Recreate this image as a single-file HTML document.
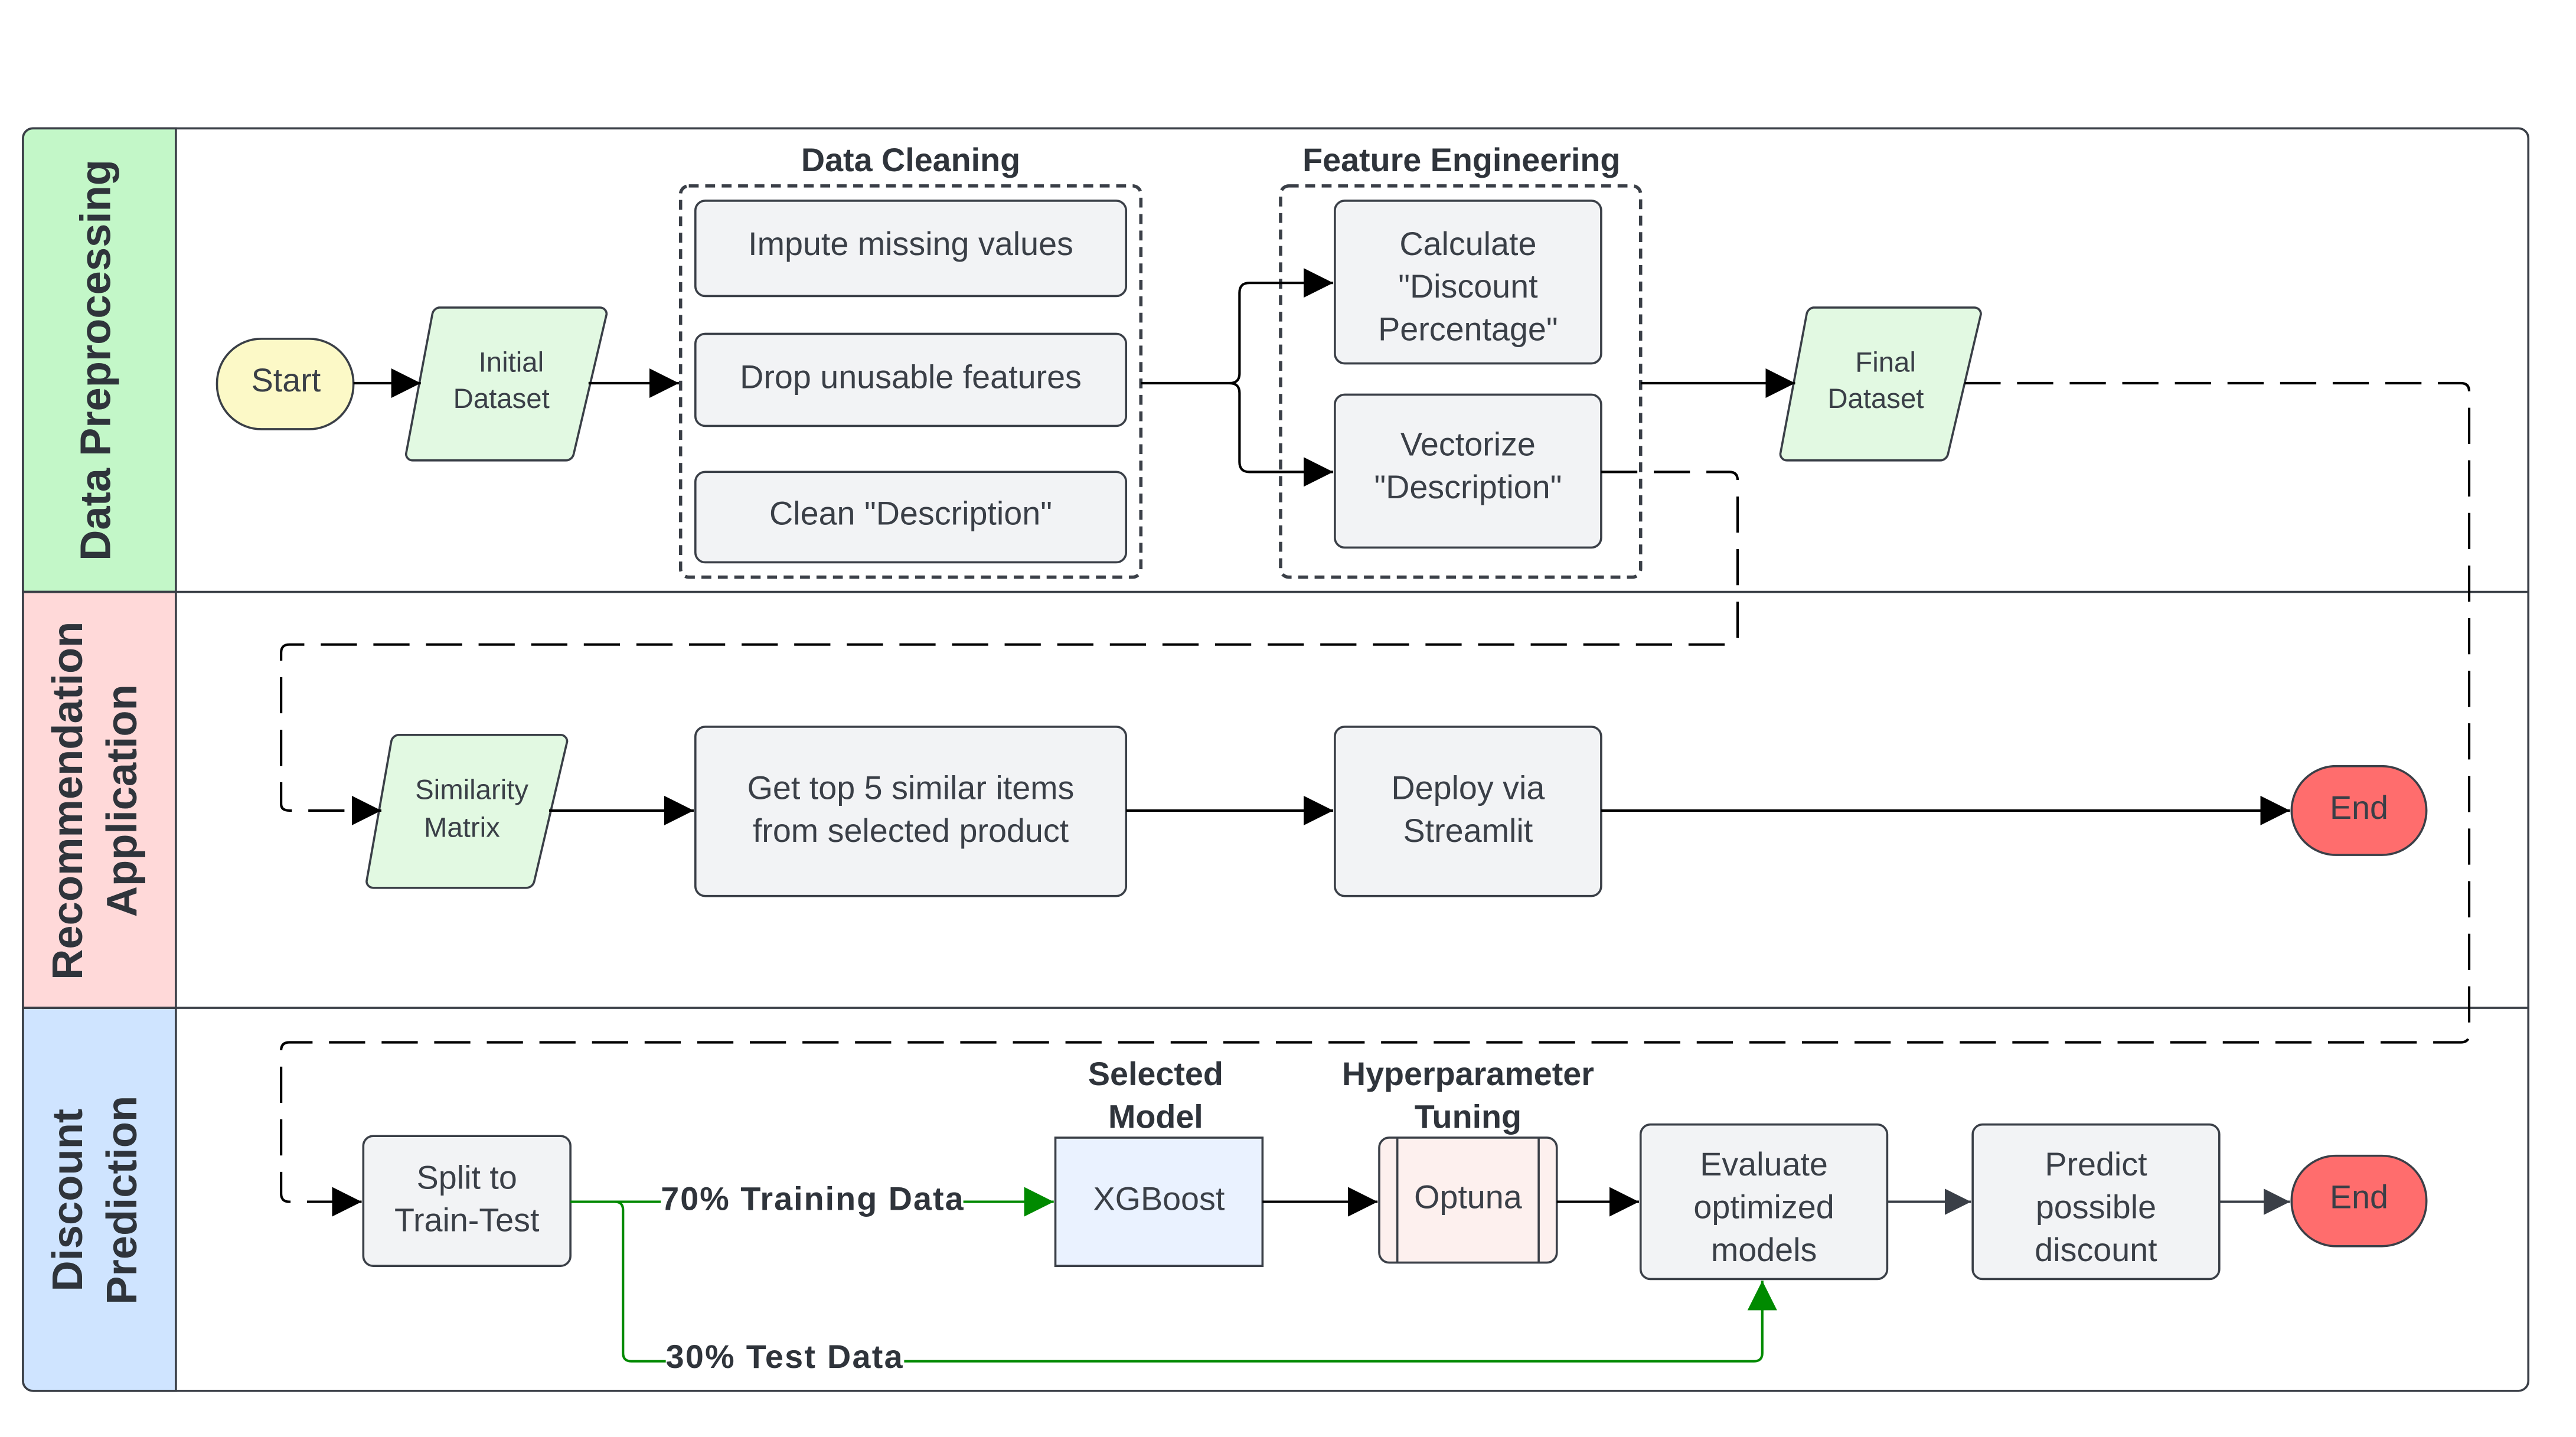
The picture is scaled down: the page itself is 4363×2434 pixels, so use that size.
<!DOCTYPE html>
<html><head><meta charset="utf-8"><style>html,body{margin:0;padding:0;background:#fff}svg{display:block}</style></head>
<body>
<svg width="4363" height="2434" viewBox="0 0 1567 874" xmlns="http://www.w3.org/2000/svg" font-family="Liberation Sans, sans-serif">
<defs>
<marker id="ab" viewBox="0 0 10 10" markerWidth="18" markerHeight="18" refX="10" refY="5" orient="auto" markerUnits="userSpaceOnUse"><path d="M0,0 L10,5 L0,10Z" fill="#000"/></marker>
<marker id="ag" viewBox="0 0 10 10" markerWidth="18" markerHeight="18" refX="10" refY="5" orient="auto" markerUnits="userSpaceOnUse"><path d="M0,0 L10,5 L0,10Z" fill="#008a00"/></marker>
<marker id="ad" viewBox="0 0 10 10" markerWidth="16" markerHeight="16" refX="10" refY="5" orient="auto" markerUnits="userSpaceOnUse"><path d="M0,0 L10,5 L0,10Z" fill="#3a3f47"/></marker>
</defs>
<g stroke="#3a3f47" stroke-width="1.3">
<rect x="14" y="78" width="1524" height="768" rx="6" fill="#fff"/>
<path d="M14,84 a6,6 0 0 1 6,-6 H107 V360 H14Z" fill="#c3f7c8"/>
<rect x="14" y="360" width="93" height="253" fill="#ffd9d9"/>
<path d="M14,613 H107 V846 H20 a6,6 0 0 1 -6,-6Z" fill="#cfe4ff"/>
<line x1="14" y1="360" x2="1538" y2="360"/>
<line x1="14" y1="613" x2="1538" y2="613"/>
</g>
<g fill="#2f343b" font-weight="bold" font-size="26" text-anchor="middle">
<text transform="translate(67,219) rotate(-90)">Data Preprocessing</text>
<text transform="translate(50,487) rotate(-90)">Recommendation</text>
<text transform="translate(83,487) rotate(-90)">Application</text>
<text transform="translate(50,730) rotate(-90)">Discount</text>
<text transform="translate(83,730) rotate(-90)">Prediction</text>
</g>
<g fill="#2f343b" font-weight="bold" font-size="20" text-anchor="middle">
<text x="554" y="104">Data Cleaning</text>
<text x="889" y="104">Feature Engineering</text>
<text x="703" y="660">Selected</text>
<text x="703" y="686">Model</text>
<text x="893" y="660">Hyperparameter</text>
<text x="893" y="686">Tuning</text>
</g>
<g fill="none" stroke="#3a3f47" stroke-width="2" stroke-dasharray="6,4">
<rect x="414" y="113" width="280" height="238" rx="5"/>
<rect x="779" y="113" width="219" height="238" rx="5"/>
</g>
<g stroke="#3a3f47" stroke-width="1.3">
<rect x="132" y="206" width="83" height="55" rx="27" fill="#fcf9c7"/>
<path d="M267,187 H365 a4,4 0 0 1 4,4 L349,276 a5,5 0 0 1 -5,4 H251 a4,4 0 0 1 -4,-4 L263,191 a5,5 0 0 1 4,-4Z" fill="#e2f9e2"/>
<path d="M1103,187 H1201 a4,4 0 0 1 4,4 L1185,276 a5,5 0 0 1 -5,4 H1087 a4,4 0 0 1 -4,-4 L1099,191 a5,5 0 0 1 4,-4Z" fill="#e2f9e2"/>
<path d="M242,447 H341 a4,4 0 0 1 4,4 L325,536 a5,5 0 0 1 -5,4 H227 a4,4 0 0 1 -4,-4 L238,451 a5,5 0 0 1 4,-4Z" fill="#e2f9e2"/>
<g fill="#f2f3f5">
<rect x="423" y="122" width="262" height="58" rx="6"/>
<rect x="423" y="203" width="262" height="56" rx="6"/>
<rect x="423" y="287" width="262" height="55" rx="6"/>
<rect x="812" y="122" width="162" height="99" rx="6"/>
<rect x="812" y="240" width="162" height="93" rx="6"/>
<rect x="423" y="442" width="262" height="103" rx="6"/>
<rect x="812" y="442" width="162" height="103" rx="6"/>
<rect x="221" y="691" width="126" height="79" rx="6"/>
<rect x="998" y="684" width="150" height="94" rx="6"/>
<rect x="1200" y="684" width="150" height="94" rx="6"/>
</g>
<rect x="642" y="692" width="126" height="78" fill="#eaf2ff"/>
<rect x="839" y="692" width="108" height="76" rx="6" fill="#fdf0ee"/>
<line x1="850" y1="692" x2="850" y2="768"/><line x1="936" y1="692" x2="936" y2="768"/>
<rect x="1394" y="466" width="82" height="54" rx="27" fill="#ff6d6d"/>
<rect x="1394" y="703" width="82" height="55" rx="27" fill="#ff6d6d"/>
</g>
<g fill="#3a3f47" font-size="20" text-anchor="middle">
<text x="174" y="238">Start</text>
<text x="311" y="226" font-size="17">Initial</text><text x="305" y="248" font-size="17">Dataset</text>
<text x="1147" y="226" font-size="17">Final</text><text x="1141" y="248" font-size="17">Dataset</text>
<text x="287" y="486" font-size="17">Similarity</text><text x="281" y="509" font-size="17">Matrix</text>
<text x="554" y="155">Impute missing values</text>
<text x="554" y="236">Drop unusable features</text>
<text x="554" y="319">Clean "Description"</text>
<text x="893" y="155">Calculate</text><text x="893" y="181">"Discount</text><text x="893" y="207">Percentage"</text>
<text x="893" y="277">Vectorize</text><text x="893" y="303">"Description"</text>
<text x="554" y="486">Get top 5 similar items</text><text x="554" y="512">from selected product</text>
<text x="893" y="486">Deploy via</text><text x="893" y="512">Streamlit</text>
<text x="1435" y="498">End</text>
<text x="1435" y="735">End</text>
<text x="284" y="723">Split to</text><text x="284" y="749">Train-Test</text>
<text x="705" y="736">XGBoost</text>
<text x="893" y="735">Optuna</text>
<text x="1073" y="715">Evaluate</text><text x="1073" y="741">optimized</text><text x="1073" y="767">models</text>
<text x="1275" y="715">Predict</text><text x="1275" y="741">possible</text><text x="1275" y="767">discount</text>
</g>
<g fill="none" stroke="#000" stroke-width="1.5">
<line x1="215" y1="233" x2="256" y2="233" marker-end="url(#ab)"/>
<line x1="358" y1="233" x2="413" y2="233" marker-end="url(#ab)"/>
<path d="M694,233 H748 q6,0 6,-6 V178 q0,-6 6,-6 H811" marker-end="url(#ab)"/>
<path d="M748,233 q6,0 6,6 V281 q0,6 6,6 H811" marker-end="url(#ab)"/>
<line x1="998" y1="233" x2="1092" y2="233" marker-end="url(#ab)"/>
<line x1="334" y1="493" x2="422" y2="493" marker-end="url(#ab)"/>
<line x1="685" y1="493" x2="811" y2="493" marker-end="url(#ab)"/>
<line x1="974" y1="493" x2="1393" y2="493" marker-end="url(#ab)"/>
<line x1="768" y1="731" x2="838" y2="731" marker-end="url(#ab)"/>
<line x1="947" y1="731" x2="997" y2="731" marker-end="url(#ab)"/>
<g stroke-dasharray="22,10">
<path d="M974,287 H1052 q5,0 5,5 V387 q0,5 -5,5 H176 q-5,0 -5,5 V489 q0,4 5,4 H232" marker-end="url(#ab)"/>
<path d="M1195,233 H1497 q5,0 5,5 V629 q0,5 -5,5 H176 q-5,0 -5,5 V726 q0,5 5,5 H220" marker-end="url(#ab)"/>
</g>
</g>
<g fill="none" stroke="#3a3f47" stroke-width="1.5">
<line x1="1148" y1="731" x2="1199" y2="731" marker-end="url(#ad)"/>
<line x1="1350" y1="731" x2="1393" y2="731" marker-end="url(#ad)"/>
</g>
<g fill="none" stroke="#008a00" stroke-width="1.5">
<line x1="347" y1="731" x2="641" y2="731" marker-end="url(#ag)"/>
<path d="M374,731 q5,0 5,5 V823 q0,5 5,5 H1067 q5,0 5,-5 V779" marker-end="url(#ag)"/>
</g>
<g font-weight="bold" font-size="20" fill="#2f343b">
<rect x="402" y="718" width="184" height="24" fill="#fff"/>
<text x="402" y="736" textLength="184">70% Training Data</text>
<rect x="405" y="815" width="145" height="24" fill="#fff"/>
<text x="405" y="832" textLength="144">30% Test Data</text>
</g>
</svg>
</body></html>
